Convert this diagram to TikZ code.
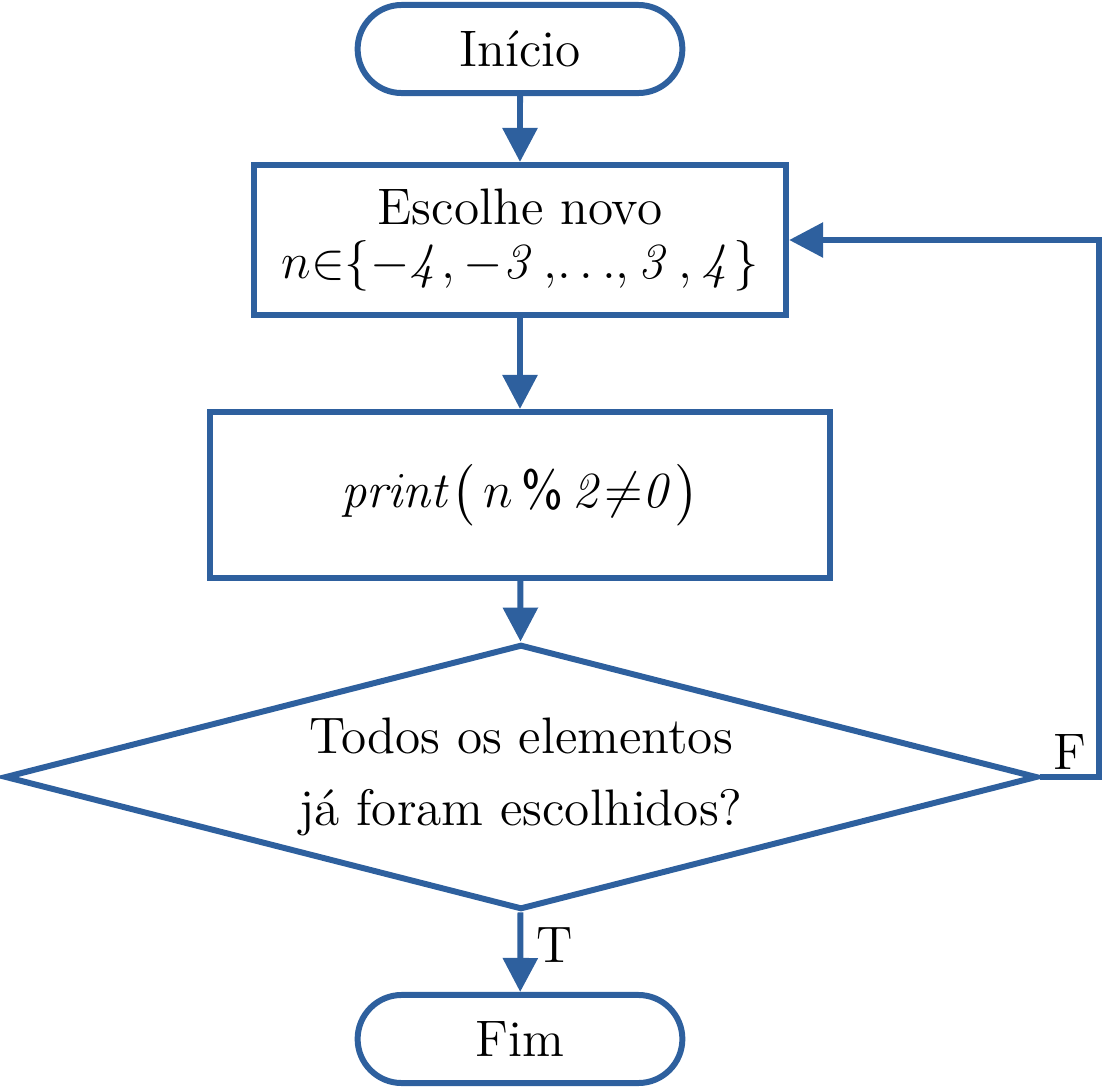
\documentclass[tikz,border=0pt]{standalone}
\usepackage{amsmath, amssymb}
\usepackage{tikz}
\usepackage{xcolor}
\definecolor{fcblue}{RGB}{46, 96, 158}
\usetikzlibrary{arrows.meta, positioning, shapes.geometric, shapes.misc}

\begin{document}
\begin{tikzpicture}[x=0.01cm, y=-0.01cm, line width=1.7pt,
    every node/.style={font=\fontsize{14.6}{17.5}\selectfont},
    term/.style={draw=fcblue, rounded rectangle, minimum width=3.48cm, minimum height=0.88cm},
    proc/.style={draw=fcblue, rectangle, align=center},
    dec/.style={draw=fcblue, diamond, align=center, inner sep=0pt, shape aspect=3.9},
    flow/.style={draw=fcblue, -{Triangle[length=0.34cm, width=0.34cm]}}]
  \useasboundingbox (0,0) rectangle (1102,1087);
  \node[term] (ini) at (520,49) {Início};
  \node[proc, minimum width=5.32cm, minimum height=1.5cm] (esc) at (520,240)
       {Escolhe novo\\[-2pt] $n{\in}\{{-}\mathit{4},{-}\mathit{3}\,,\!\ldots\!,\mathit{3}\,,\mathit{4}\}$};
  \node[proc, minimum width=6.2cm, minimum height=1.66cm] (prt) at (520,495)
       {$\mathit{print}\big(\,n\,\textsf{\%}\,\mathit{2}{\neq}\mathit{0}\big)$};
  \node[dec, minimum width=10.32cm, minimum height=2.65cm] (todos) at (521,777)
       {Todos os elementos\\[3pt] já foram escolhidos?};
  \node[term] (fim) at (520,1039) {Fim};
  \coordinate (vol) at (1099,777);
  \coordinate (vol2) at (1099,240);
  \draw[flow] (ini) -- (esc);
  \draw[flow] (esc) -- (prt);
  \draw[flow] (prt) -- (todos);
  \draw[flow] (todos) -- node[right, xshift=0.5pt, yshift=2pt] {T} (fim);
  \draw[flow] (todos.east) -- (vol) -- (vol2) -- (esc.east);
  \node[above left=-2pt and 0pt of vol, xshift=0.5pt] (flab) {F};
\end{tikzpicture}
\end{document}
